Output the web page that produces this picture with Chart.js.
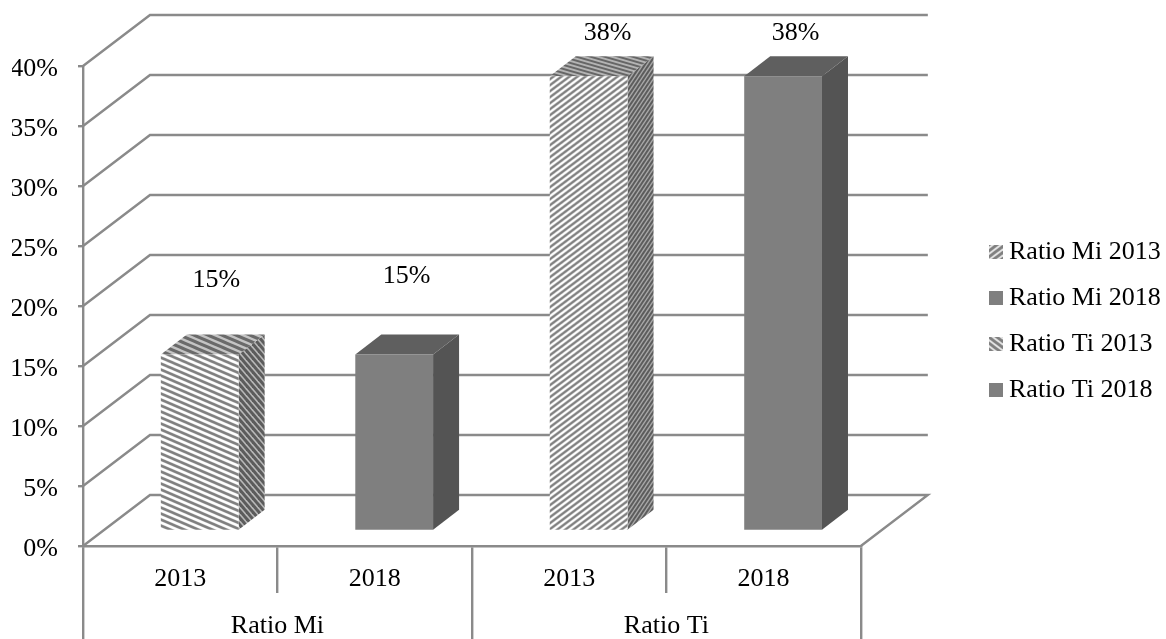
<!DOCTYPE html>
<html>
<head>
<meta charset="utf-8">
<script src="https://cdn.jsdelivr.net/npm/chart.js@4/dist/chart.umd.min.js"></script>
<style>
  html, body { margin: 0; padding: 0; background: #fff; }
  canvas { display: block; }
</style>
</head>
<body>
<canvas id="chart" width="1166" height="639"></canvas>
<script>
// Dados
const categories = ['2013', '2018', '2013', '2018'];
const groups = ['Ratio Mi', 'Ratio Ti'];
const seriesNames = ['Ratio Mi 2013', 'Ratio Mi 2018', 'Ratio Ti 2013', 'Ratio Ti 2018'];
const ratioMi2013 = [14.7, null, null, null];
const ratioMi2018 = [null, 14.7, null, null];
const ratioTi2013 = [null, null, 37.9, null];
const ratioTi2018 = [null, null, null, 37.9];
const yTicks = { min: 0, max: 40, step: 5 };

const FONT = '"Liberation Serif"';
const FONT_SIZE = 26;
const GREY = '#8a8a8a';
const LINE = 2.4;

// profundidade do "3D": parede do fundo e deslocamento/espessura das barras
const WALL = { dx: 67, dy: -51 };
const SHIFT = { dx: 19.5, dy: -15 };
const DEPTH = { dx: 26, dy: -20 };

// posição dos rótulos relativa à barra (no original eles não ficam alinhados)
const labelOffsets = [[36, -89], [32, -93], [38.5, -58], [32, -58]];

// listras diagonais repetíveis. rise > 0 desce para a direita, rise < 0 sobe
function stripes(w, h, rise, bg, fg, lw) {
  const c = document.createElement('canvas');
  c.width = w; c.height = h;
  const g = c.getContext('2d');
  g.fillStyle = bg;
  g.fillRect(0, 0, w, h);
  g.strokeStyle = fg;
  g.lineWidth = lw;
  for (let i = -2; i <= 2; i++) {
    const y0 = rise > 0 ? i * h : (i + 1) * h;
    g.beginPath();
    g.moveTo(-w, y0 - rise * h);
    g.lineTo(2 * w, y0 + 2 * rise * h);
    g.stroke();
  }
  return g.createPattern(c, 'repeat');
}

function swatch(fill) {
  const c = document.createElement('canvas');
  c.width = 14; c.height = 14;
  const g = c.getContext('2d');
  g.fillStyle = fill;
  g.fillRect(0, 0, 14, 14);
  return c;
}

const frontDown = stripes(14, 6, 1, '#ffffff', '#808080', 2.7);
const topDown = stripes(14, 6, 1, '#c4c4c4', '#6a6a6a', 3);
const sideDown = stripes(6, 7, 1, '#b8b8b8', '#5c5c5c', 3);
const frontUp = stripes(8, 6, -1, '#ffffff', '#808080', 2.4);
const topUp = stripes(14, 4, 1, '#b4b4b4', '#666666', 2);
const sideUp = stripes(4, 6, -1, '#a8a8a8', '#5c5c5c', 2);

const faces = [
  { front: frontDown, top: topDown, side: sideDown },
  { front: '#7f7f7f', top: '#5f5f5f', side: '#545454' },
  { front: frontUp, top: topUp, side: sideUp },
  { front: '#7f7f7f', top: '#5f5f5f', side: '#545454' }
];

// no original a legenda troca os padrões de Mi 2013 e Ti 2013
const legendSwatches = [
  swatch(stripes(8, 6, -1, '#e8e8e8', '#808080', 3)),
  swatch('#7f7f7f'),
  swatch(stripes(8, 6, 1, '#e8e8e8', '#808080', 3)),
  swatch('#7f7f7f')
];

function poly(ctx, pts, fill) {
  ctx.fillStyle = fill;
  ctx.beginPath();
  pts.forEach((p, i) => i ? ctx.lineTo(p[0], p[1]) : ctx.moveTo(p[0], p[1]));
  ctx.closePath();
  ctx.fill();
}

const depth3d = {
  id: 'depth3d',
  afterLayout(chart) {
    // legenda fica longe do gráfico, como no original
    const lg = chart.legend;
    const w = lg.width;
    lg.left = 975.5;
    lg.right = lg.left + w;
    lg.top = 219;
  },
  beforeDatasetsDraw(chart) {
    // grade em perspectiva: diagonal na parede lateral + linha do fundo
    const { ctx, chartArea, scales } = chart;
    ctx.save();
    ctx.strokeStyle = GREY;
    ctx.lineWidth = LINE;
    scales.y.ticks.forEach(t => {
      const y = scales.y.getPixelForValue(t.value);
      ctx.beginPath();
      ctx.moveTo(chartArea.left, y);
      ctx.lineTo(chartArea.left + WALL.dx, y + WALL.dy);
      ctx.lineTo(chartArea.right + WALL.dx, y + WALL.dy);
      if (t.value === yTicks.min) ctx.lineTo(chartArea.right, y);
      ctx.stroke();
    });
    ctx.restore();
  },
  beforeDatasetDraw(chart, args) {
    const { ctx } = chart;
    const f = faces[args.index];
    const values = chart.data.datasets[args.index].data;
    args.meta.data.forEach((el, j) => {
      if (values[j] == null) return;
      const half = el.width / 2;
      const l = el.x - half + SHIFT.dx, r = el.x + half + SHIFT.dx;
      const t = el.y + SHIFT.dy, b = el.base + SHIFT.dy;
      poly(ctx, [[r, t], [r + DEPTH.dx, t + DEPTH.dy], [r + DEPTH.dx, b + DEPTH.dy], [r, b]], f.side);
      poly(ctx, [[l, t], [l + DEPTH.dx, t + DEPTH.dy], [r + DEPTH.dx, t + DEPTH.dy], [r, t]], f.top);
    });
    ctx.save();
    ctx.translate(SHIFT.dx, SHIFT.dy);
  },
  afterDatasetDraw(chart) {
    chart.ctx.restore();
  },
  afterDatasetsDraw(chart) {
    const { ctx } = chart;
    ctx.save();
    ctx.font = FONT_SIZE + 'px ' + FONT;
    ctx.fillStyle = '#000';
    ctx.textAlign = 'center';
    ctx.textBaseline = 'middle';
    chart.data.datasets.forEach((ds, i) => {
      const j = ds.data.findIndex(v => v != null);
      const el = chart.getDatasetMeta(i).data[j];
      ctx.fillText(Math.round(ds.data[j]) + '%', el.x + labelOffsets[i][0], el.y + labelOffsets[i][1]);
    });
    ctx.restore();
  }
};

function makeDataset(i, data) {
  return {
    label: seriesNames[i],
    data,
    xAxisID: 'x',
    yAxisID: 'y',
    backgroundColor: faces[i].front,
    borderWidth: 0,
    barPercentage: 0.4,
    categoryPercentage: 1,
    clip: false
  };
}

new Chart(document.getElementById('chart'), {
  type: 'bar',
  plugins: [depth3d],
  data: {
    labels: categories,
    datasets: [
      makeDataset(0, ratioMi2013),
      makeDataset(1, ratioMi2018),
      makeDataset(2, ratioTi2013),
      makeDataset(3, ratioTi2018)
    ]
  },
  options: {
    responsive: false,
    animation: false,
    layout: { padding: { left: 12, top: 66, right: 110, bottom: 0 } },
    plugins: {
      tooltip: { enabled: false },
      legend: {
        position: 'right',
        align: 'start',
        labels: {
          color: '#000',
          font: { family: FONT, size: FONT_SIZE },
          padding: 20,
          boxHeight: 14,
          usePointStyle: true,
          pointStyleWidth: 0.5,
          generateLabels: chart => chart.data.datasets.map((ds, i) => ({
            text: ds.label,
            pointStyle: legendSwatches[i],
            datasetIndex: i,
            lineWidth: 0
          }))
        }
      }
    },
    scales: {
      x: {
        stacked: true,
        position: 'bottom',
        afterFit: s => { s.height = 47; },
        border: { color: GREY, width: LINE },
        grid: { color: GREY, lineWidth: LINE, drawOnChartArea: false, tickLength: 47 },
        ticks: { color: '#000', font: { family: FONT, size: FONT_SIZE }, padding: -29, autoSkip: false, maxRotation: 0 }
      },
      x2: {
        type: 'category',
        labels: groups,
        position: 'bottom',
        offset: true,
        afterFit: s => { s.height = 46; },
        border: { display: false },
        grid: { color: GREY, lineWidth: LINE, offset: true, drawOnChartArea: false, tickLength: 46 },
        ticks: { color: '#000', font: { family: FONT, size: FONT_SIZE }, padding: -28, autoSkip: false, maxRotation: 0 }
      },
      y: {
        stacked: true,
        min: yTicks.min,
        max: yTicks.max,
        afterFit: s => { s.width = 71; },
        border: { color: GREY, width: LINE },
        grid: { color: GREY, lineWidth: LINE, drawOnChartArea: false, tickLength: 5 },
        ticks: {
          stepSize: yTicks.step,
          color: '#000',
          font: { family: FONT, size: FONT_SIZE },
          padding: 20,
          labelOffset: 3,
          callback: v => v + '%'
        }
      }
    }
  }
});
</script>
</body>
</html>
